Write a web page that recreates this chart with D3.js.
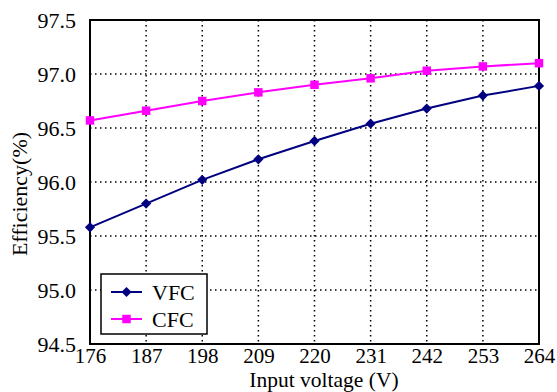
<!DOCTYPE html>
<html>
<head>
<meta charset="utf-8">
<script src="https://cdn.jsdelivr.net/npm/d3@7"></script>
<style>
  html, body { margin: 0; padding: 0; background: #fff; }
  svg { display: block; }
  text { font-family: "Liberation Serif", "Times New Roman", serif; fill: #000; }
</style>
</head>
<body>
<svg id="chart" width="557" height="392"></svg>
<script>
// Input voltage steps (V)
const voltages = [176, 187, 198, 209, 220, 231, 242, 253, 264];
// Efficiency (%) of each control scheme
const vfc = [95.58, 95.80, 96.02, 96.21, 96.38, 96.54, 96.68, 96.80, 96.89];
const cfc = [96.57, 96.66, 96.75, 96.83, 96.90, 96.96, 97.03, 97.07, 97.10];
const yTicks = [94.5, 95.0, 95.5, 96.0, 96.5, 97.0, 97.5];
const seriesNames = ["VFC", "CFC"];

const FONT = "'Liberation Serif', 'Times New Roman', serif";
const svg = d3.select("#chart");
const m = { left: 90, right: 539, top: 20, bottom: 344 };

const x = d3.scaleLinear().domain([176, 264]).range([m.left, m.right]);
const y = d3.scaleLinear().domain([94.5, 97.5]).range([m.bottom, m.top]);

// dotted grid
const grid = svg.append("g");
grid.selectAll("line.gx").data(voltages.slice(1, -1)).join("line")
  .attr("x1", d => x(d)).attr("x2", d => x(d))
  .attr("y1", m.top).attr("y2", m.bottom)
  .attr("stroke", "#000").attr("stroke-width", 1.5).attr("stroke-dasharray", "1.5,3.5");
grid.selectAll("line.gy").data(yTicks.slice(1, -1)).join("line")
  .attr("y1", d => y(d)).attr("y2", d => y(d))
  .attr("x1", m.left).attr("x2", m.right)
  .attr("stroke", "#000").attr("stroke-width", 1.5).attr("stroke-dasharray", "1.5,3.5");

// axes (labels only, no tick marks)
const xAxis = svg.append("g").attr("transform", `translate(0,${m.bottom})`)
  .call(d3.axisBottom(x).tickValues(voltages).tickSize(0).tickPadding(4).tickFormat(d3.format("d")));
const yAxis = svg.append("g").attr("transform", `translate(${m.left},0)`)
  .call(d3.axisLeft(y).tickValues(yTicks).tickSize(0).tickPadding(14).tickFormat(d3.format(".1f")));
[xAxis, yAxis].forEach(g => {
  g.attr("font-family", FONT);
  g.select(".domain").remove();
  g.selectAll("text").attr("fill", "#000");
});
xAxis.attr("font-size", 21);
yAxis.attr("font-size", 22);
yAxis.selectAll("text").attr("dy", "0.34em");

// frame
svg.append("rect")
  .attr("x", m.left).attr("y", m.top)
  .attr("width", m.right - m.left).attr("height", m.bottom - m.top)
  .attr("fill", "none").attr("stroke", "#000").attr("stroke-width", 2);

// axis titles
svg.append("text").attr("x", 324).attr("y", 387)
  .attr("text-anchor", "middle").attr("font-size", 21.5).attr("font-family", FONT)
  .text("Input voltage (V)");
svg.append("text").attr("transform", "translate(27,194) rotate(-90)")
  .attr("text-anchor", "middle").attr("font-size", 22).attr("font-family", FONT)
  .text("Efficiency(%)");

const series = [
  { name: seriesNames[0], values: vfc, color: "#000080", rot: 45, size: 52 },
  { name: seriesNames[1], values: cfc, color: "#FF00FF", rot: 0, size: 72 }
];

const line = d3.line().x((d, i) => x(voltages[i])).y(d => y(d));
const marker = s => d3.symbol().type(d3.symbolSquare).size(s.size)();

series.forEach(s => {
  svg.append("path").datum(s.values)
    .attr("d", line).attr("fill", "none")
    .attr("stroke", s.color).attr("stroke-width", 2);
  svg.append("g").selectAll("path").data(s.values).join("path")
    .attr("transform", (d, i) => `translate(${x(voltages[i])},${y(d)}) rotate(${s.rot})`)
    .attr("d", marker(s))
    .attr("fill", s.color);
});

// legend
const lg = svg.append("g");
lg.append("rect").attr("x", 101).attr("y", 274).attr("width", 106).attr("height", 60)
  .attr("fill", "#fff").attr("stroke", "#000").attr("stroke-width", 1.5);
series.forEach((s, i) => {
  const ly = 292 + i * 27;
  lg.append("line").attr("x1", 111).attr("x2", 142).attr("y1", ly).attr("y2", ly)
    .attr("stroke", s.color).attr("stroke-width", 2);
  lg.append("path").attr("transform", `translate(126.5,${ly}) rotate(${s.rot})`)
    .attr("d", marker(s)).attr("fill", s.color);
  lg.append("text").attr("x", 152).attr("y", ly).attr("dy", "0.35em")
    .attr("font-size", 22).attr("font-family", FONT).text(s.name);
});
</script>
</body>
</html>
